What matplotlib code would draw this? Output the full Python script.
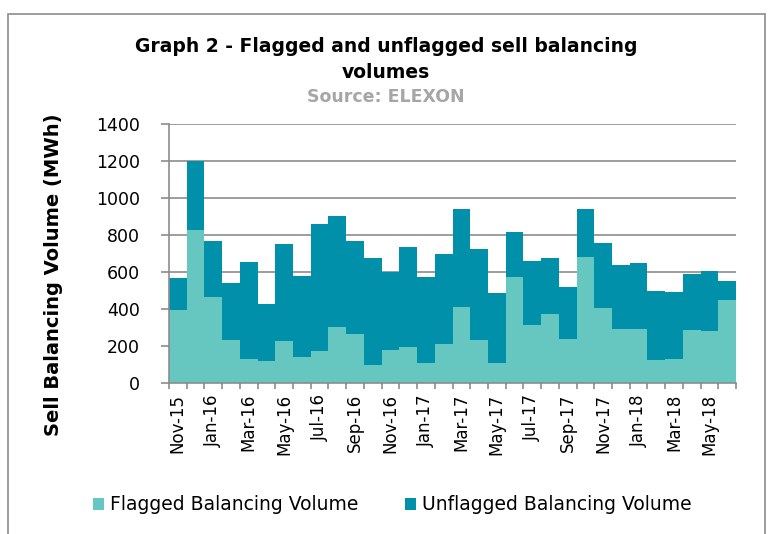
import matplotlib.pyplot as plt
from matplotlib.patches import Rectangle
import numpy as np

# Monthly sell balancing volumes (MWh), Nov-15 to Jun-18
months = ['Nov-15', 'Dec-15', 'Jan-16', 'Feb-16', 'Mar-16', 'Apr-16', 'May-16', 'Jun-16',
          'Jul-16', 'Aug-16', 'Sep-16', 'Oct-16', 'Nov-16', 'Dec-16', 'Jan-17', 'Feb-17',
          'Mar-17', 'Apr-17', 'May-17', 'Jun-17', 'Jul-17', 'Aug-17', 'Sep-17', 'Oct-17',
          'Nov-17', 'Dec-17', 'Jan-18', 'Feb-18', 'Mar-18', 'Apr-18', 'May-18', 'Jun-18']
flagged = [393, 825, 465, 232, 132, 117, 225, 139, 175, 301, 265, 95, 178, 195, 108, 209,
           409, 234, 106, 571, 312, 371, 236, 679, 404, 294, 290, 124, 128, 285, 283, 447]
total = [566, 1200, 768, 542, 652, 425, 751, 577, 861, 903, 766, 676, 600, 737, 573, 695,
         942, 724, 486, 814, 661, 676, 519, 940, 757, 640, 649, 497, 494, 589, 604, 550]
unflagged = [t - f for t, f in zip(total, flagged)]

flag_col = '#66C6C0'
unflag_col = '#0090AA'
grey = '#8c8c8c'

fig = plt.figure(figsize=(7.72, 5.34), dpi=100)
ax = fig.add_axes([169 / 772, 1 - 383 / 534, (736 - 169) / 772, (383 - 124) / 534])

x = np.arange(len(months))
ax.bar(x, flagged, width=1.0, color=flag_col, label='Flagged Balancing Volume', zorder=2)
ax.bar(x, unflagged, width=1.0, bottom=flagged, color=unflag_col,
       label='Unflagged Balancing Volume', zorder=2)

ax.set_xlim(-0.5, len(months) - 0.5)
ax.set_ylim(0, 1400)
ax.set_yticks(np.arange(0, 1401, 200))
ax.yaxis.grid(True, color=grey, linewidth=1.2, zorder=0)
ax.set_axisbelow(True)

# labels every other month, tick marks at every bar boundary
ax.set_xticks(x[::2])
ax.set_xticklabels(months[::2], rotation=90)
ax.set_xticks(np.arange(-0.5, len(months), 1.0), minor=True)
ax.tick_params(axis='x', which='major', length=0, pad=8, labelsize=12)
ax.tick_params(axis='x', which='minor', length=4, color=grey, width=1.2)
ax.tick_params(axis='y', length=6, color=grey, width=1.2, labelsize=12.5, pad=15)

for s in ['top', 'right']:
    ax.spines[s].set_visible(False)
for s in ['left', 'bottom']:
    ax.spines[s].set_color(grey)
    ax.spines[s].set_linewidth(1.2)

fig.text(54 / 772, 1 - 275 / 534, 'Sell Balancing Volume (MWh)', rotation=90,
         ha='center', va='center', fontsize=14, fontweight='bold')

fig.text(0.5, 1 - 47 / 534, 'Graph 2 - Flagged and unflagged sell balancing',
         ha='center', va='center', fontsize=13.5, fontweight='bold')
fig.text(0.5, 1 - 72 / 534, 'volumes', ha='center', va='center', fontsize=13.5, fontweight='bold')
fig.text(0.5, 1 - 97 / 534, 'Source: ELEXON', ha='center', va='center', fontsize=12.5,
         fontweight='bold', color='#a6a6a6')

ax.legend(loc='center', bbox_to_anchor=(392 / 772, 1 - 505 / 534), bbox_transform=fig.transFigure,
          ncol=2, frameon=False, fontsize=13.5, handlelength=0.6, handleheight=0.6,
          handletextpad=0.3, columnspacing=2.5)

# outer chart frame
fig.patches.append(Rectangle((8 / 772, -0.1), (765 - 8) / 772, 1.1 - 14 / 534,
                             transform=fig.transFigure, fill=False, edgecolor=grey,
                             linewidth=1.2))

fig.savefig('out.png', dpi=100)
